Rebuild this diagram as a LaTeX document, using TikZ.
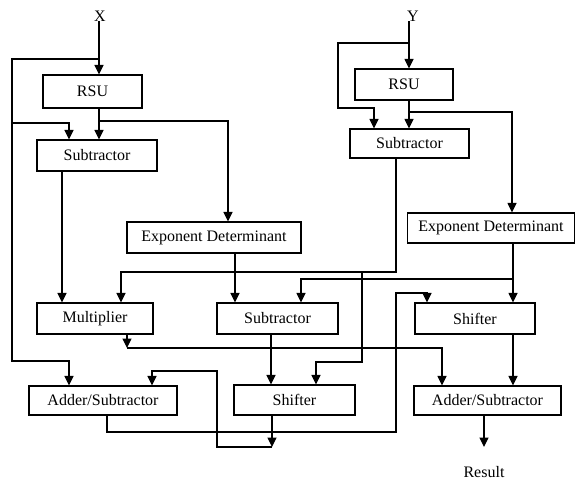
\documentclass[tikz,border=0pt]{standalone}
\usepackage{fontspec}
\setmainfont{Liberation Serif}
\usetikzlibrary{arrows.meta}
\begin{document}
\begin{tikzpicture}[x=1pt,y=-1pt,
  blk/.style={draw,line width=1.1pt,inner sep=0pt,font=\fontsize{16}{19}\selectfont},
  lbl/.style={inner sep=0pt,font=\fontsize{16}{19}\selectfont},
  ln/.style={line width=1.1pt},
  arr/.style={line width=1.1pt,-{Triangle[length=9.5pt,width=9pt]}}]
\useasboundingbox (0,0) rectangle (577,480);
% nodes
\node[lbl] (X) at (100,16) {X};
\node[lbl] (Y) at (413,16) {Y};
\node[blk,minimum width=99pt,minimum height=33pt] (RSU1) at (92.5,91.5) {RSU};
\node[blk,minimum width=120pt,minimum height=31pt] (Sub1) at (97,155.5) {Subtractor};
\node[blk,minimum width=174pt,minimum height=31pt] (Exp1) at (214,237.5) {Exponent Determinant};
\node[blk,minimum width=116pt,minimum height=31pt] (Mult) at (95,318.5) {Multiplier};
\node[blk,minimum width=121pt,minimum height=31pt] (Sub2) at (277.5,318.5) {Subtractor};
\node[blk,minimum width=120pt,minimum height=31pt] (ShR) at (475,318.5) {Shifter};
\node[blk,minimum width=148pt,minimum height=29pt] (AS1) at (103,400.5) {Adder/Subtractor};
\node[blk,minimum width=121pt,minimum height=30pt] (ShM) at (294.5,400) {Shifter};
\node[blk,minimum width=147pt,minimum height=29pt] (AS2) at (487.5,400.5) {Adder/Subtractor};
\node[blk,minimum width=98pt,minimum height=31pt] (RSU2) at (404,84.5) {RSU};
\node[blk,minimum width=119pt,minimum height=29pt] (SubY) at (409.5,143.5) {Subtractor};
\node[blk,minimum width=167pt,minimum height=30pt] (Exp2) at (491,228) {Exponent Determinant};
\node[lbl] (Res) at (484,472) {Result};
% junction coordinates
\coordinate (jx) at (99,59);
\coordinate (jl) at (12,123);
\coordinate (jr1) at (99,121);
\coordinate (jy) at (409,43);
\coordinate (jr2) at (409,112);
\coordinate (jsy) at (396,272);
\coordinate (jsy2) at (362,272);
\coordinate (je2) at (513,279);
\coordinate (jm) at (127,348);
\coordinate (jsm) at (272,447);
\coordinate (jas) at (484,447);
% left column
\draw[arr] (99,0 |- X.south) -- (99,0 |- RSU1.north);
\draw[arr] (jx) -- (12,59) -- (12,361) -| (69,0 |- AS1.north);
\draw[arr] (jl) -| (69,0 |- Sub1.north);
\draw[arr] (99,0 |- RSU1.south) -- (99,0 |- Sub1.north);
\draw[arr] (jr1) -| (228,0 |- Exp1.north);
\draw[arr] (62,0 |- Sub1.south) -- (62,0 |- Mult.north);
\draw[arr] (235,0 |- Exp1.south) -- (235,0 |- Sub2.north);
% right column
\draw[arr] (409,0 |- Y.south) -- (409,0 |- RSU2.north);
\draw[arr] (jy) -- (338,43) -- (338,108) -| (374,0 |- SubY.north);
\draw[arr] (409,0 |- RSU2.south) -- (409,0 |- SubY.north);
\draw[arr] (jr2) -| (512,0 |- Exp2.north);
\draw[arr] (396,0 |- SubY.south) -- (jsy) -| (121,0 |- Mult.north);
\draw[arr] (jsy2) -- (362,362) -| (316,0 |- ShM.north);
\draw[arr] (513,0 |- Exp2.south) -- (513,0 |- ShR.north);
\draw[arr] (je2) -| (301,0 |- Sub2.north);
% lower part
\draw[arr] (127,0 |- Mult.south) -- (jm);
\draw[arr] (jm) -| (442,0 |- AS2.north);
\draw[arr] (271,0 |- Sub2.south) -- (271,0 |- ShM.north);
\draw[arr] (513,0 |- ShR.south) -- (513,0 |- AS2.north);
\draw[arr] (107,0 |- AS1.south) -- (107,432) -- (396,432) -- (396,293) -| (427,0 |- ShR.north);
\draw[arr] (272,0 |- ShM.south) -- (jsm);
\draw[arr] (jsm) -- (217,447) -- (217,371) -| (152,0 |- AS1.north);
\draw[arr] (484,0 |- AS2.south) -- (jas);
\end{tikzpicture}
\end{document}
